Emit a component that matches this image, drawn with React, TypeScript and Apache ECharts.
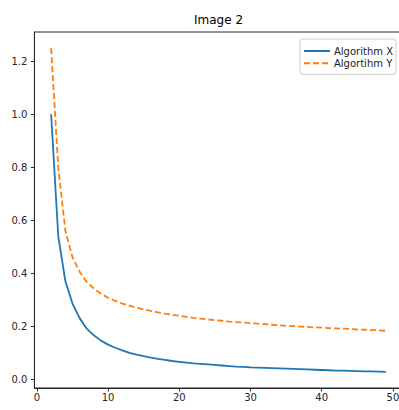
import React, { useEffect, useRef } from "react";
import * as echarts from "echarts";

const xValues = [2, 3, 4, 5, 6, 7, 8, 9, 10, 11, 12, 13, 14, 15, 16, 17, 18, 19, 20, 21, 22, 23, 24, 25, 26, 27, 28, 29, 30, 31, 32, 33, 34, 35, 36, 37, 38, 39, 40, 41, 42, 43, 44, 45, 46, 47, 48, 49];

const algorithmX = [1.0, 0.54, 0.37, 0.285, 0.23, 0.19, 0.165, 0.145, 0.13, 0.118, 0.108, 0.099, 0.092, 0.086, 0.081, 0.076, 0.072, 0.068, 0.065, 0.062, 0.059, 0.057, 0.055, 0.053, 0.051, 0.049, 0.047, 0.046, 0.044, 0.043, 0.042, 0.041, 0.04, 0.039, 0.038, 0.037, 0.036, 0.035, 0.034, 0.033, 0.032, 0.032, 0.031, 0.03, 0.029, 0.029, 0.028, 0.027];

const algorithmY = [1.25, 0.8, 0.56, 0.46, 0.405, 0.367, 0.342, 0.322, 0.307, 0.295, 0.285, 0.277, 0.27, 0.263, 0.257, 0.252, 0.247, 0.243, 0.239, 0.235, 0.231, 0.228, 0.225, 0.222, 0.22, 0.217, 0.215, 0.213, 0.211, 0.209, 0.207, 0.205, 0.203, 0.201, 0.2, 0.198, 0.197, 0.195, 0.194, 0.192, 0.191, 0.19, 0.189, 0.187, 0.186, 0.185, 0.184, 0.182];

const xTicks = [0, 10, 20, 30, 40, 50];
const yTicks = [0, 0.2, 0.4, 0.6, 0.8, 1.0, 1.2];

const seriesNames = ["Algorithm X", "Algortihm Y"];
const titleText = "Image 2";

const FONT = "DejaVu Sans";

export default function App() {
  const ref = useRef<HTMLDivElement>(null);
  useEffect(() => {
    if (!ref.current) return;
    const chart = echarts.init(ref.current, undefined, { renderer: "svg" });
    const axisColor = "#262626";
    chart.setOption({
      animation: false,
      backgroundColor: "#ffffff",
      textStyle: { fontFamily: FONT },
      graphic: [
        {
          type: "text",
          x: 218.5,
          y: 20,
          style: {
            text: titleText,
            align: "center",
            verticalAlign: "middle",
            font: `12px "${FONT}"`,
            fill: "#000",
          },
        },
      ],
      grid: {
        left: 34.4,
        top: 32,
        width: 368.1,
        height: 356,
        show: true,
        borderColor: axisColor,
        borderWidth: 1,
        containLabel: false,
      },
      legend: {
        orient: "vertical",
        left: 300,
        top: 39,
        padding: [7, 3, 6, 3],
        itemWidth: 26,
        itemHeight: 10,
        itemGap: 2.3,
        backgroundColor: "rgba(255,255,255,0.8)",
        borderColor: "#cccccc",
        borderWidth: 1,
        borderRadius: 3,
        itemStyle: { opacity: 0, borderWidth: 0 },
        textStyle: { fontSize: 10, fontFamily: FONT, color: "#1a1a1a", lineHeight: 10, padding: [0, 0, 0, -1] },
        data: seriesNames,
      },
      xAxis: {
        type: "value",
        min: -0.35,
        max: 51.35,
        splitLine: { show: false },
        axisLine: { show: true, onZero: false, lineStyle: { color: axisColor, width: 1 } },
        axisTick: { show: true, length: 3.5, customValues: xTicks, lineStyle: { color: axisColor } },
        axisLabel: {
          customValues: xTicks,
          margin: 4,
          fontSize: 10,
          fontFamily: FONT,
          color: axisColor,
        },
      },
      yAxis: {
        type: "value",
        min: -0.034,
        max: 1.311,
        splitLine: { show: false },
        axisLine: { show: true, onZero: false, lineStyle: { color: axisColor, width: 1 } },
        axisTick: { show: true, length: 3.5, customValues: yTicks, lineStyle: { color: axisColor } },
        axisLabel: {
          customValues: yTicks,
          margin: 7,
          fontSize: 10,
          fontFamily: FONT,
          color: axisColor,
          formatter: (v: number) => v.toFixed(1),
        },
      },
      series: [
        {
          name: seriesNames[0],
          type: "line",
          symbol: "none",
          data: xValues.map((x, i) => [x, algorithmX[i]]),
          lineStyle: { color: "#1f77b4", width: 1.8 },
          itemStyle: { color: "#1f77b4" },
        },
        {
          name: seriesNames[1],
          type: "line",
          symbol: "none",
          data: xValues.map((x, i) => [x, algorithmY[i]]),
          lineStyle: { color: "#ff7f0e", width: 1.8, type: [6, 3] },
          itemStyle: { color: "#ff7f0e" },
        },
      ],
    });
    return () => chart.dispose();
  }, []);
  return (
    <div style={{ position: "fixed", left: 0, top: 0, width: 399, height: 410, overflow: "hidden", background: "#fff" }}>
      <div ref={ref} style={{ width: 404, height: 410 }} />
    </div>
  );
}
